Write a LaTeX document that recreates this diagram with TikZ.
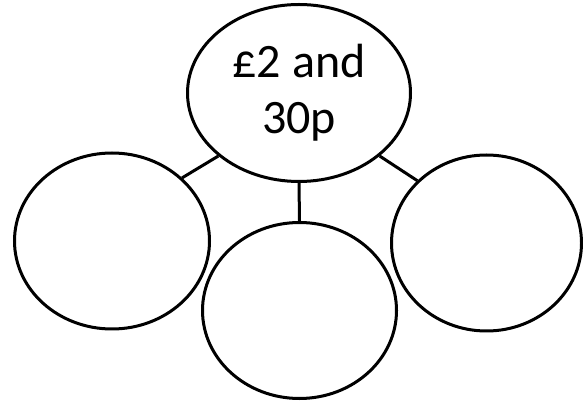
\documentclass[tikz,border=0pt]{standalone}
\usepackage{fontspec}
\setmainfont{Carlito}
\usetikzlibrary{shapes.geometric}
\begin{document}
\begin{tikzpicture}[x=1pt,y=1pt,
  bubble/.style={draw=black, line width=3pt, ellipse, inner sep=0pt},
  link/.style={draw=black, line width=3pt}]
\useasboundingbox (0,0) rectangle (583,404);
\node[bubble, minimum width=223pt, minimum height=177pt, align=center,
      font=\fontsize{48}{56}\selectfont] (top) at (299,311) {£2 and\\30p};
\node[bubble, minimum width=195pt, minimum height=176pt] (left) at (112,163) {};
\node[bubble, minimum width=194pt, minimum height=176pt] (mid) at (299.5,93.5) {};
\node[bubble, minimum width=190pt, minimum height=176pt] (right) at (486.5,161) {};
\draw[link] (top.218) -- (left.42);
\draw[link] (top.south) -- (mid.north);
\draw[link] (top.322) -- (right.138);
\end{tikzpicture}
\end{document}
